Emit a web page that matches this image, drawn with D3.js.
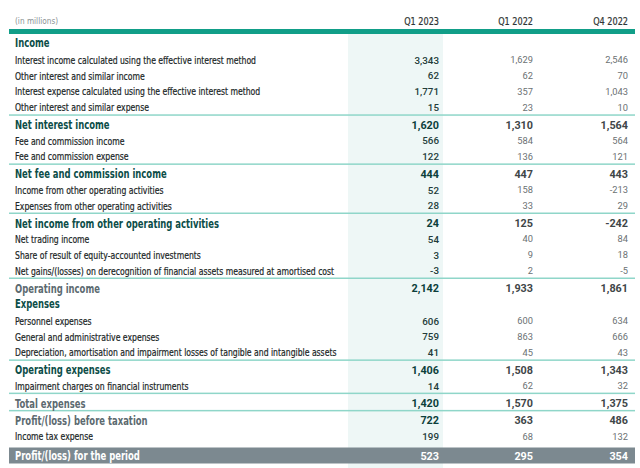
<!DOCTYPE html>
<html><head><meta charset="utf-8">
<script src="https://cdn.jsdelivr.net/npm/d3@7"></script>
<style>body{margin:0;background:#fff}svg{display:block}</style>
</head><body><svg id="c" width="640" height="468"></svg>
<script>
const columns = ["Q1 2023", "Q1 2022", "Q4 2022"];
const labels = [
  "Income",
  "Interest income calculated using the effective interest method",
  "Other interest and similar income",
  "Interest expense calculated using the effective interest method",
  "Other interest and similar expense",
  "Net interest income",
  "Fee and commission income",
  "Fee and commission expense",
  "Net fee and commission income",
  "Income from other operating activities",
  "Expenses from other operating activities",
  "Net income from other operating activities",
  "Net trading income",
  "Share of result of equity-accounted investments",
  "Net gains/(losses) on derecognition of financial assets measured at amortised cost",
  "Operating income",
  "Expenses",
  "Personnel expenses",
  "General and administrative expenses",
  "Depreciation, amortisation and impairment losses of tangible and intangible assets",
  "Operating expenses",
  "Impairment charges on financial instruments",
  "Total expenses",
  "Profit/(loss) before taxation",
  "Income tax expense",
  "Profit/(loss) for the period"
];
// row kinds: section, item, total, subtotal, result
const kinds = ["section","item","item","item","item","total","item","item","total","item","item","total",
  "item","item","item","subtotal","section","item","item","item","total","item","subtotal","subtotal","item","result"];
const q1_2023 = [null,3343,62,1771,15,1620,566,122,444,52,28,24,54,3,-3,2142,null,606,759,41,1406,14,1420,722,199,523];
const q1_2022 = [null,1629,62,357,23,1310,584,136,447,158,33,125,40,9,2,1933,null,600,863,45,1508,62,1570,363,68,295];
const q4_2022 = [null,2546,70,1043,10,1564,564,121,443,-213,29,-242,84,18,-5,1861,null,634,666,43,1343,32,1375,486,132,354];
const lineBefore = [5,8,11,15,20,22,23];

const series = [q1_2023, q1_2022, q4_2022];
const fmt = d3.formatLocale({decimal:".",thousands:",",grouping:[3],currency:["",""],minus:"-"}).format(",");

const svg = d3.select("#c");
const L = 9, R = 635;
const FONT = "'Liberation Sans Narrow', 'DejaVu Sans Condensed', sans-serif";

// row vertical positions
const ys = [];
let y = 43;
labels.forEach((l, i) => {
  if (i === 1) y = 60;
  else if (i > 1) {
    let step = 15.9;
    if (lineBefore.includes(i)) step += 1.4;
    if (kinds[i-1] === "section") step += 1;
    if (kinds[i] === "result") step += 3.6;
    y += step;
  }
  ys.push(y);
});

const x = d3.scaleOrdinal().domain(columns).range([439, 533, 628]);

// highlight column
svg.append("rect").attr("x", 348).attr("y", 34).attr("width", 95).attr("height", 468 - 34).attr("fill", "#eef7f6");

// condensing helper (reference font is narrower than the available narrow fonts)
function condense(sel, k) {
  sel.each(function() {
    const w = this.getComputedTextLength();
    if (w > 0) d3.select(this).attr("textLength", w * k).attr("lengthAdjust", "spacingAndGlyphs");
  });
}

// header
svg.append("text").attr("x", 15).attr("y", 24).attr("font-family", FONT)
  .attr("font-size", 9.5).attr("fill", "#8a9294").text("(in millions)")
  .call(condense, 0.86);
svg.selectAll("text.colh").data(columns).join("text").attr("class","colh")
  .attr("x", d => x(d)).attr("y", 24.5).attr("text-anchor", "end")
  .attr("font-family", FONT).attr("font-size", 10.5).attr("fill", "#2f3535")
  .attr("stroke", "#2f3535").attr("stroke-width", 0.2)
  .text(d => d)
  .call(condense, 0.86);
svg.append("rect").attr("x", L).attr("y", 29).attr("width", R - L).attr("height", 5).attr("fill", "#119e88");

// separators
svg.selectAll("rect.sep").data(lineBefore).join("rect").attr("class","sep")
  .attr("x", L).attr("width", R - L).attr("y", d => ys[d-1] + 6.6).attr("height", 1.5).attr("fill", "#8fd6c9");

// result bar
const ri = kinds.indexOf("result");
svg.append("rect").attr("x", L).attr("y", ys[ri] - 8.5).attr("width", R - L).attr("height", 16).attr("fill", "#7c8990");

const labelStyle = {
  section: {size: 12, weight: "bold", fill: "#0c4d48"},
  total: {size: 12, weight: "bold", fill: "#0c4d48"},
  subtotal: {size: 12, weight: "bold", fill: "#5c6a70"},
  item: {size: 10, weight: "normal", fill: "#1a2626"},
  result: {size: 12, weight: "bold", fill: "#ffffff"}
};

const labs = svg.selectAll("text.lab").data(labels).join("text").attr("class","lab")
  .attr("x", 15).attr("y", (d,i) => ys[i]).attr("dy", "0.36em")
  .attr("font-family", FONT)
  .attr("font-size", (d,i) => labelStyle[kinds[i]].size)
  .attr("font-weight", (d,i) => labelStyle[kinds[i]].weight)
  .attr("fill", (d,i) => labelStyle[kinds[i]].fill)
  .attr("stroke", (d,i) => kinds[i] === "item" ? labelStyle.item.fill : null)
  .attr("stroke-width", (d,i) => kinds[i] === "item" ? 0.2 : null)
  .text(d => d);

// calibrate: reference widths of two known labels
const nodes = labs.nodes();
const kItem = 241 / nodes[1].getComputedTextLength();
const kBold = 204 / nodes[11].getComputedTextLength();
labs.each(function(d, i) {
  const k = kinds[i] === "item" ? kItem : kBold;
  d3.select(this).call(condense, k);
});

columns.forEach((c, ci) => {
  const vals = series[ci];
  svg.selectAll("text.v" + ci).data(vals).join("text").attr("class", "v" + ci)
    .attr("x", x(c)).attr("y", (d,i) => ys[i]).attr("dy", "0.36em").attr("text-anchor", "end")
    .attr("font-family", "Roboto, 'Liberation Sans', sans-serif")
    .attr("font-size", (d,i) => kinds[i] === "item" ? (ci === 0 ? 9.8 : 9.3) : 10.8)
    .attr("font-weight", (d,i) => (kinds[i] !== "item" ? "bold" : (ci === 0 ? 500 : "normal")))
    .attr("fill", (d,i) => {
      if (kinds[i] === "result") return "#fff";
      if (ci === 0) return kinds[i] === "item" ? "#233c3a" : "#0c3f3b";
      return kinds[i] === "item" ? "#6b7173" : "#3f4648";
    })
    .text(d => d === null ? "" : fmt(d));
});
</script>
</body></html>
